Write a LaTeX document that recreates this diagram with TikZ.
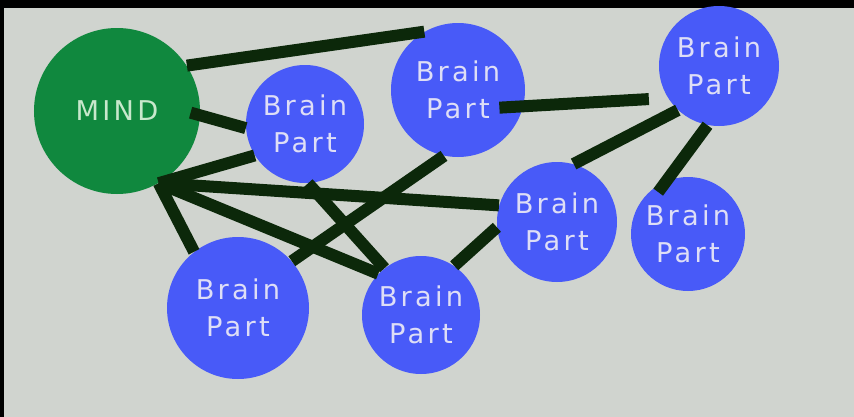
\documentclass[tikz,border=0pt]{standalone}
\usepackage{fontspec}
\usepackage{tikz}
\usetikzlibrary{positioning, calc}
\newfontfamily\labelfont{DejaVu Sans}[LetterSpace=12]
\definecolor{screengray}{RGB}{208,212,207}
\definecolor{mindgreen}{RGB}{16,136,62}
\definecolor{partblue}{RGB}{72,90,248}
\definecolor{parttext}{RGB}{222,222,246}
\definecolor{mindtext}{RGB}{200,232,204}
\definecolor{linkgreen}{RGB}{12,40,10}
\tikzset{
  base/.style={circle, inner sep=0pt, align=center,
               font=\labelfont\fontsize{15.5}{21}\selectfont},
  mindnode/.style = {base, fill=mindgreen, text=mindtext, minimum size=3.32cm},
  part/.style     = {base, fill=partblue, text=parttext},
  link/.style     = {line width=0.24cm, color=linkgreen, line cap=butt},
}

\begin{document}
\begin{tikzpicture}
  % Screen
  \fill[black] (0,0) rectangle (17.08,-8.34);
  \fill[screengray] (0.08,-0.16) rectangle (17.08,-8.34);
  \useasboundingbox (0,0) rectangle (17.08,-8.34);

  % Nodes
  \node[mindnode] (mind) at (2.34,-2.22) {MIND};
  \node[part, minimum size=2.36cm] (near)    at (6.10,-2.48)  {Brain\\Part};
  \node[part, minimum size=2.68cm] (upper)   at (9.16,-1.80)  {Brain\\Part};
  \node[part, minimum size=2.40cm] (corner)  at (14.38,-1.32) {Brain\\Part};
  \node[part, minimum size=2.40cm] (middle)  at (11.14,-4.44) {Brain\\Part};
  \node[part, minimum size=2.28cm] (edge)    at (13.76,-4.68) {Brain\\Part};
  \node[part, minimum size=2.84cm] (lowleft) at (4.76,-6.16)  {Brain\\Part};
  \node[part, minimum size=2.36cm] (lowmid)  at (8.42,-6.30)  {Brain\\Part};

  % Links
  \draw[link] (mind.33) -- (upper.120);
  \draw[link, shorten <=-0.2cm] (mind.-3) -- (near.184);
  \draw[link] (mind.-60) -- (near.212);
  \draw[link] (mind.-60) -- (middle.164);
  \draw[link] (mind.-60) -- (lowleft.128);
  \draw[link] (mind.-60) -- (lowmid.136);
  \draw[link] (near.-87) -- (lowmid.128);
  \draw[link] (upper.258) -- (lowleft.41);
  \draw[link, shorten <=-0.48cm, shorten >=0.38cm] (upper.-14) -- (corner.212);
  \draw[link] (corner.227) -- (middle.74);
  \draw[link, shorten >=-0.28cm] (corner.259) -- (edge.112);
  \draw[link] (middle.185) -- (lowmid.56);
\end{tikzpicture}
\end{document}
